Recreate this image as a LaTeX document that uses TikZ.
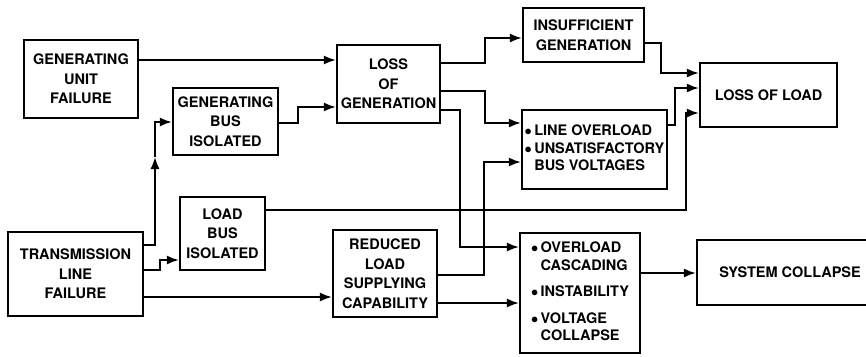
\documentclass[tikz,border=0pt]{standalone}
\usepackage{fontspec}
\setmainfont{TeX Gyre Heros}
\usetikzlibrary{arrows.meta}
\begin{document}
\begin{tikzpicture}[x=1pt, y=-1pt,
    box/.style={draw, line width=2.2pt, align=center, inner sep=1pt,
        font=\fontsize{14.5}{19.5}\selectfont\bfseries},
    link/.style={line width=1.8pt},
    arr/.style={link, -{Latex[length=12pt, width=9pt]}}]
  \useasboundingbox (0,0) rectangle (866,356);
  % causes and events
  \node[box, minimum width=114pt, minimum height=78pt] (guf) at (81,79) {GENERATING\\UNIT\\FAILURE};
  \node[box, minimum width=105pt, minimum height=67pt] (gbi) at (225.5,121.5) {GENERATING\\BUS\\ISOLATED};
  \node[box, minimum width=103pt, minimum height=78pt] (log) at (388.5,84) {LOSS\\OF\\GENERATION};
  \node[box, minimum width=121pt, minimum height=54pt] (isg) at (583.5,35) {INSUFFICIENT\\GENERATION};
  \node[box, minimum width=145pt, minimum height=79pt] (lov) at (594.5,149.5)
    {\fontsize{14.5}{17.5}\selectfont\begin{tabular}{@{}l@{\,}l@{}}$\bullet$&LINE OVERLOAD\\
     $\bullet$&UNSATISFACTORY\\ &BUS VOLTAGES\end{tabular}};
  \node[box, minimum width=137pt, minimum height=64pt] (lol) at (768.5,95) {LOSS OF LOAD};
  \node[box, minimum width=135pt, minimum height=84pt] (tlf) at (75.5,274) {TRANSMISSION\\LINE\\FAILURE};
  \node[box, minimum width=85pt, minimum height=73pt] (lbi) at (222.5,233.5) {LOAD\\BUS\\ISOLATED};
  \node[box, minimum width=104pt, minimum height=87pt] (rls) at (385,273.5) {REDUCED\\LOAD\\SUPPLYING\\CAPABILITY};
  \node[box, minimum width=120pt, minimum height=120pt] (occ) at (580,293)
    {\fontsize{14.5}{17.5}\selectfont\begin{tabular}{@{}l@{\,}l@{}}$\bullet$&OVERLOAD\\
     &CASCADING\\[9pt] $\bullet$&INSTABILITY\\[9pt] $\bullet$&VOLTAGE\\ &COLLAPSE\end{tabular}};
  \node[box, minimum width=186pt, minimum height=65pt] (sc) at (790,272.5) {SYSTEM COLLAPSE};
  \coordinate (up) at (155,157);
  % connections
  \draw[arr] (guf.east |- 0,60) -- (log.west |- 0,60);
  \draw[arr] (gbi.east |- 0,123) -- (298,123) |- (log.west |- 0,107);
  \draw[arr] (tlf.east |- 0,245) -| (up);
  \draw[arr] (up) |- (gbi.west |- 0,122);
  \draw[arr] (tlf.east |- 0,270) -- (160,270) |- (lbi.west |- 0,260);
  \draw[arr] (tlf.east |- 0,297) -- (rls.west |- 0,297);
  \draw[arr] (lbi.east |- 0,210) -- (686,210) |- (lol.west |- 0,113);
  \draw[arr] (log.east |- 0,63) -- (485,63) |- (isg.west |- 0,38);
  \draw[arr] (log.east |- 0,91) -- (485,91) |- (lov.west |- 0,123);
  \draw[arr] (log.east |- 0,110) -- (460,110) |- (occ.west |- 0,247);
  \draw[arr] (rls.east |- 0,275) -- (484,275) |- (lov.west |- 0,162);
  \draw[arr] (rls.east |- 0,303) -- (occ.west |- 0,303);
  \draw[arr] (isg.east |- 0,43) -- (661,43) |- (lol.west |- 0,73);
  \draw[arr] (lov.east |- 0,125) -- (675,125) |- (lol.west |- 0,88);
  \draw[arr] (occ.east |- 0,273) -- (sc.west |- 0,273);
\end{tikzpicture}
\end{document}
